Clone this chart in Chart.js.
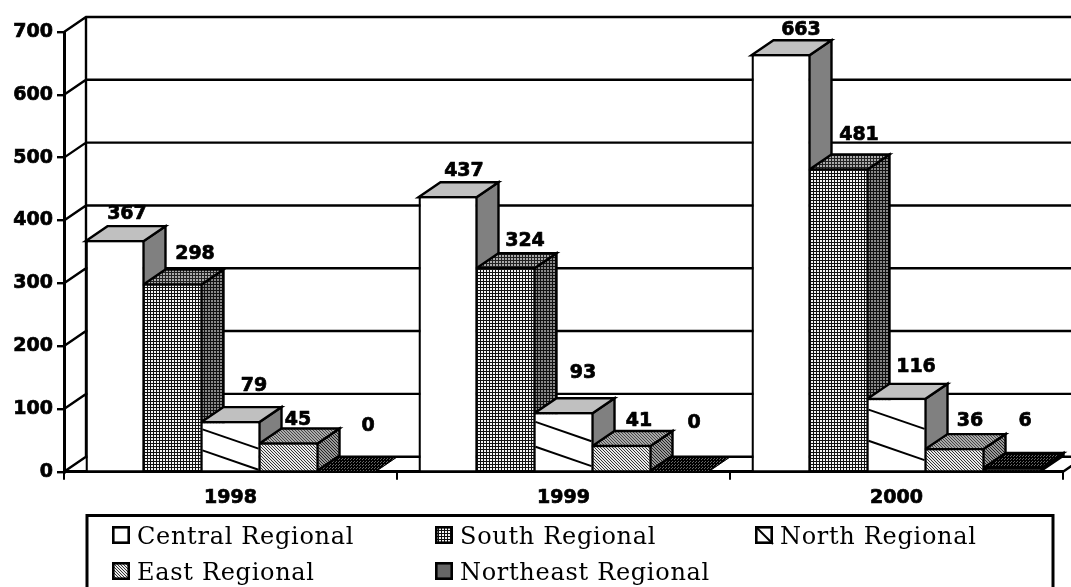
<!DOCTYPE html>
<html><head><meta charset="utf-8">
<style>html,body{margin:0;padding:0;background:#fff;overflow:hidden}canvas{display:block}</style>
<script src="https://cdn.jsdelivr.net/npm/chart.js@4/dist/chart.umd.min.js"></script>
</head><body><canvas id="c" width="1071" height="587"></canvas>
<script>
const years = ['1998','1999','2000'];
const seriesNames = ['Central Regional','South Regional','North Regional','East Regional','Northeast Regional'];
const central = [367,437,663];
const south = [298,324,481];
const north = [79,93,116];
const east = [45,41,36];
const northeast = [0,0,6];
const yTicks = [0,100,200,300,400,500,600,700];
// label shifts [dx,dy] by series then year, relative to the top-back of each bar
const labelNudges = [
 [[1.5,-12],[5.5,-11],[9.5,-10]],
 [[11.5,-15.5],[8.5,-12],[9.5,-20]],
 [[12.5,-21],[8.5,-25],[8.5,-17]],
 [[-1.5,-8],[6.5,-10],[4.5,-13]],
 [[10.5,-31],[3.5,-34],[1.5,-32]]
];
const DX = 22, DY = 15;
const BOLD = 'bold 19px "DejaVu Sans"';
const SERIF = '24px "DejaVu Serif"';

function tile(rows, on, off){
  const h = rows.length, w = rows[0].length;
  const c = document.createElement('canvas'); c.width = w; c.height = h;
  const x = c.getContext('2d');
  for(let j=0;j<h;j++)for(let i=0;i<w;i++){
    x.fillStyle = rows[j][i]==='#' ? on : off; x.fillRect(i,j,1,1);
  }
  return x.createPattern(c,'repeat');
}
const grid = ['#..','#..','###'];
const dith = ['#..','.#.','..#'];
const dots = ['##.','###','.##'];
const fills = {
  front:['#ffffff', tile(grid,'#111','#f4f4f4'), '#ffffff', tile(dith,'#333','#e8e8e8'), tile(dots,'#000','#555')],
  top:  ['#c0c0c0', tile(grid,'#222','#aaa'), '#c0c0c0', tile(dith,'#444','#aaa'), tile(dots,'#000','#666')],
  side: ['#808080', tile(grid,'#111','#888'), '#808080', tile(dith,'#222','#999'), tile(dots,'#000','#555')]
};
const swatch = ['#ffffff', fills.front[1], '#ffffff', fills.front[3], '#666666'];

const threeD = {
  id:'threeD',
  beforeDatasetsDraw(chart){
    const {ctx, scales:{x,y}} = chart;
    ctx.save();
    ctx.strokeStyle='#000'; ctx.lineWidth=2.4; ctx.lineCap='butt'; ctx.lineJoin='miter';
    ctx.beginPath();
    ctx.moveTo(x.left+DX, y.getPixelForValue(yTicks[yTicks.length-1])-DY);
    ctx.lineTo(x.left+DX, y.getPixelForValue(0)-DY);
    yTicks.forEach(v=>{
      const p=y.getPixelForValue(v);
      ctx.moveTo(x.left,p); ctx.lineTo(x.left+DX,p-DY); ctx.lineTo(x.right+DX,p-DY);
    });
    ctx.moveTo(x.right,y.getPixelForValue(0)); ctx.lineTo(x.right+DX,y.getPixelForValue(0)-DY);
    ctx.stroke();
    chart.data.datasets.forEach((ds,i)=>{
      chart.getDatasetMeta(i).data.forEach((bar,j)=>{
        const l=bar.x-bar.width/2, r=bar.x+bar.width/2, t=bar.y, b=bar.base;
        ctx.lineWidth = ds.data[j]===0 ? 1 : 2.4;
        if(t<b){
          ctx.beginPath(); ctx.moveTo(r,t); ctx.lineTo(r+DX,t-DY); ctx.lineTo(r+DX,b-DY); ctx.lineTo(r,b); ctx.closePath();
          ctx.fillStyle=fills.side[i]; ctx.fill(); ctx.stroke();
        }
        ctx.beginPath(); ctx.moveTo(l,t); ctx.lineTo(l+DX,t-DY); ctx.lineTo(r+DX,t-DY); ctx.lineTo(r,t); ctx.closePath();
        ctx.fillStyle=fills.top[i]; ctx.fill(); ctx.stroke();
      });
    });
    ctx.restore();
  },
  afterDatasetsDraw(chart){
    const {ctx} = chart;
    ctx.save();
    // wide diagonal hatch on North Regional's front face
    ctx.strokeStyle='#000'; ctx.lineWidth=2;
    chart.getDatasetMeta(2).data.forEach(bar=>{
      const l=bar.x-bar.width/2, r=bar.x+bar.width/2, h=bar.base-bar.y;
      [0.15,0.585].forEach(f=>{
        const y0=bar.y+h*f;
        ctx.beginPath(); ctx.moveTo(l+1,y0); ctx.lineTo(r-1,y0+bar.width/3); ctx.stroke();
      });
    });
    ctx.fillStyle='#000'; ctx.font=BOLD; ctx.textAlign='center'; ctx.textBaseline='middle'; ctx.lineWidth=0.7; ctx.lineJoin='round';
    chart.data.datasets.forEach((ds,i)=>{
      chart.getDatasetMeta(i).data.forEach((bar,j)=>{
        const n=labelNudges[i][j], tx=bar.x+DX/2+n[0], ty=bar.y-DY+n[1];
        ctx.fillText(String(ds.data[j]), tx, ty);
        ctx.strokeText(String(ds.data[j]), tx, ty);
      });
    });
    ctx.restore();
  },
  afterDraw(chart){
    const {ctx} = chart;
    ctx.save();
    ctx.strokeStyle='#000'; ctx.lineWidth=3;
    ctx.strokeRect(87,515.5,966,90);
    const cols=[112,435,755], rows=[526,562];
    const place=[[0,0],[1,0],[2,0],[0,1],[1,1]];
    ctx.font=SERIF; ctx.letterSpacing='0.7px'; ctx.textAlign='left'; ctx.textBaseline='alphabetic';
    seriesNames.forEach((name,i)=>{
      const x=cols[place[i][0]], y=rows[place[i][1]];
      ctx.fillStyle=swatch[i]; ctx.fillRect(x,y,18,18);
      ctx.lineWidth=2.6; ctx.strokeRect(x+1.3,y+1.3,15.4,15.4);
      if(i===2){ctx.lineWidth=2;ctx.beginPath();ctx.moveTo(x+1,y+1);ctx.lineTo(x+18,y+18);ctx.stroke();}
      ctx.fillStyle='#000';
      ctx.fillText(name, x+25, y+18);
    });
    ctx.restore();
  }
};

const tickFont = {family:'"DejaVu Sans"',weight:'bold',size:19};
new Chart(document.getElementById('c'),{
  type:'bar',
  plugins:[threeD],
  data:{labels:years,datasets:[central,south,north,east,northeast].map((d,i)=>({
    label:seriesNames[i],data:d,backgroundColor:fills.front[i],borderColor:'#000',
    borderWidth:{top:1.3,left:i===0?2.4:1.2,right:1.2,bottom:0},borderSkipped:false
  }))},
  options:{
    responsive:false,animation:false,
    layout:{autoPadding:false,padding:{left:0,top:32,right:8,bottom:0}},
    plugins:{legend:{display:false},tooltip:{enabled:false},title:{display:false}},
    datasets:{bar:{categoryPercentage:0.871,barPercentage:1}},
    scales:{
      x:{
        afterFit:s=>{s.height=115.3},
        grid:{drawOnChartArea:false,offset:true,color:'#000',lineWidth:2,tickLength:8},
        border:{color:'#000',width:3},
        ticks:{color:'#000',font:tickFont,padding:7,maxRotation:0,textStrokeColor:'#000',textStrokeWidth:0.7}
      },
      y:{
        min:0,max:700,
        afterFit:s=>{s.width=64},
        afterBuildTicks:s=>{s.ticks=yTicks.map(v=>({value:v}))},
        grid:{drawOnChartArea:false,color:'#000',lineWidth:2.4,tickLength:7},
        border:{color:'#000',width:3},
        ticks:{color:'#000',font:tickFont,padding:4,textStrokeColor:'#000',textStrokeWidth:0.7}
      }
    }
  }
});
</script></body></html>
